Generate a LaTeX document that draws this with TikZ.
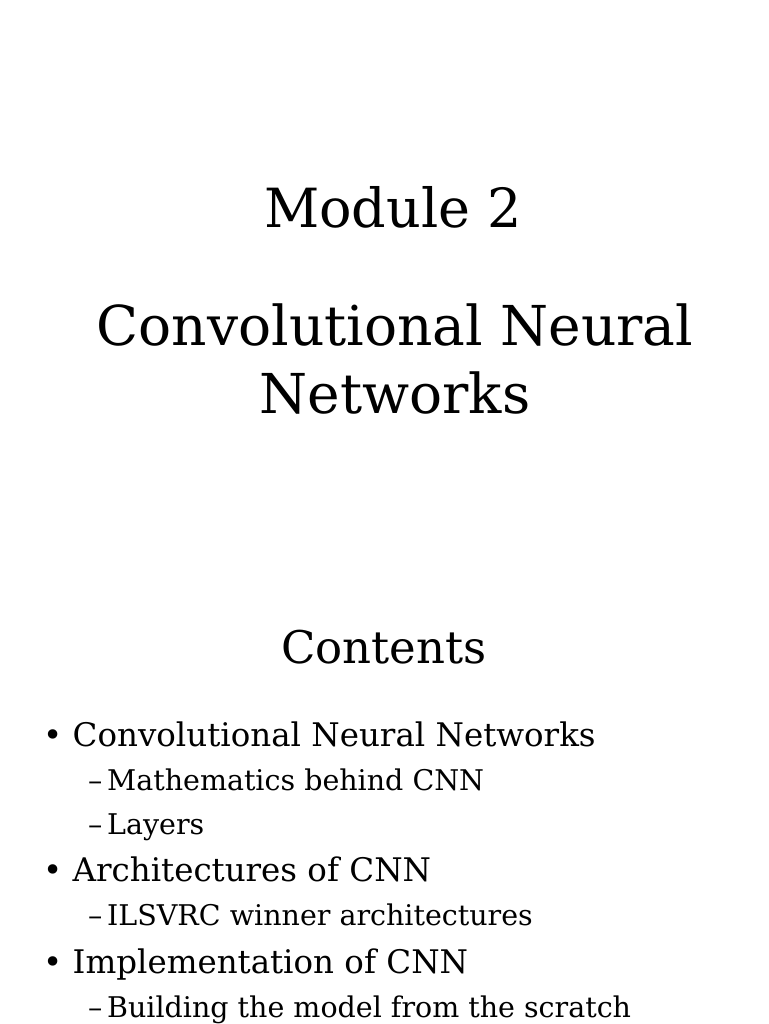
\documentclass[tikz,border=0pt]{standalone}
\usepackage{fontspec}
\setmainfont{DejaVu Serif}
\usetikzlibrary{positioning}
\tikzset{
  title/.style={inner sep=0pt, anchor=base, font=\fontsize{55}{62}\selectfont},
  item/.style={inner sep=0pt, anchor=base west, font=\fontsize{32.5}{38}\selectfont},
  subitem/.style={inner sep=0pt, anchor=base west, font=\fontsize{28.5}{34}\selectfont}
}
\begin{document}
\begin{tikzpicture}[x=1pt,y=-1pt]
  \useasboundingbox (0,0) rectangle (768,1024);
  % title block
  \node[title, font=\fontsize{54}{62}\selectfont] (module) at (393,228) {Module 2};
  \node[title] (cnn1) at (395,345) {Convolutional Neural};
  \node[title] (cnn2) at (395,413) {Networks};
  \node[title, font=\fontsize{45}{52}\selectfont] (contents) at (384,663) {Contents};
  % bullet list
  \node[item] (b1) at (43,746) {\textbullet\ Convolutional Neural Networks};
  \node[subitem] (s1) at (88,790) {\textendash\,Mathematics behind CNN};
  \node[subitem] (s2) at (88,834) {\textendash\,Layers};
  \node[item] (b2) at (43,881) {\textbullet\ Architectures of CNN};
  \node[subitem] (s3) at (88,925) {\textendash\,ILSVRC winner architectures};
  \node[item] (b3) at (43,973) {\textbullet\ Implementation of CNN};
  \node[subitem] (s4) at (88,1017) {\textendash\,Building the model from the scratch};
\end{tikzpicture}
\end{document}
